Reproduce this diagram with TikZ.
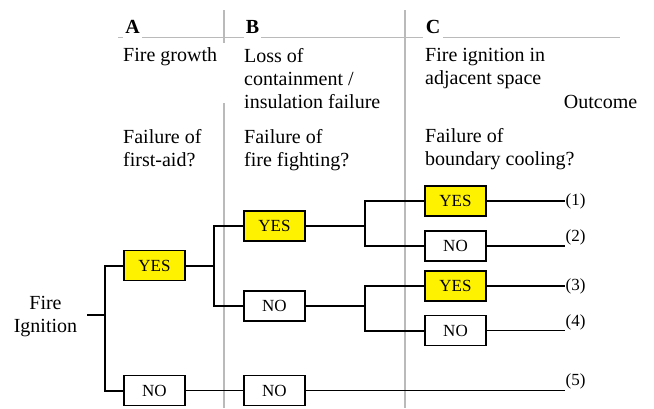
\documentclass[tikz,border=0pt]{standalone}
\usepackage{fontspec}
\setmainfont{Liberation Serif}
\begin{document}
\begin{tikzpicture}[x=1pt,y=-1pt,
  txt/.style={inner sep=0pt, align=left, font=\fontsize{20}{23}\selectfont},
  hdr/.style={fill=white, inner xsep=2.3pt, inner ysep=0pt, minimum height=26pt, font=\fontsize{20}{23}\selectfont\bfseries},
  grid/.style={draw=black!27, line width=1.5pt},
  box/.style={draw=black, line width=1.5pt, minimum width=61pt, minimum height=30pt, inner sep=0pt, font=\fontsize{17}{19}\selectfont},
  yesbox/.style={box, fill=yellow},
  nobox/.style={box, fill=white},
  br/.style={line width=2pt},
  thin/.style={line width=1.3pt},
  outlbl/.style={inner sep=0.5pt, anchor=west, font=\fontsize{17}{19}\selectfont}]
\useasboundingbox (0,0) rectangle (654,408);
% grid lines
\draw[grid] (118,37.7) -- (620,37.7);
\draw[grid] (224,10) -- (224,43);
\draw[grid] (224,103) -- (224,408);
\draw[grid] (405,10) -- (405,408);
% headers
\node[hdr] (hA) at (132.5,27) {A};
\node[hdr] (hB) at (252.5,27) {B};
\node[hdr] (hC) at (433,27) {C};
% column texts
\node[txt, anchor=north west] (tA1) at (123,47.8) {Fire growth};
\node[txt, anchor=north west] (tB1) at (244,47.8) {Loss of\\containment /\\insulation failure};
\node[txt, anchor=north west] (tC1) at (425,47.8) {Fire ignition in\\adjacent space};
\node[txt, anchor=base east] (tOut) at (637.5,108) {Outcome};
\node[txt, anchor=north west] (tA2) at (123,129.5) {Failure of\\first-aid?};
\node[txt, anchor=north west] (tB2) at (244,129.5) {Failure of\\fire fighting?};
\node[txt, anchor=north west] (tC2) at (425,128.5) {Failure of\\boundary cooling?};
% start
\node[txt, align=center, anchor=north] (fi) at (45.5,295.6) {Fire\\Ignition};
\coordinate (s0) at (87,315);
\coordinate (j0) at (105,315);
% boxes
\node[yesbox] (yA) at (154.5,265.5) {YES};
\node[nobox] (nA) at (154.5,390.5) {NO};
\node[yesbox] (yB) at (274.5,226) {YES};
\node[nobox] (nB) at (274.5,306) {NO};
\node[nobox] (nB2) at (274.5,390.5) {NO};
\node[yesbox] (yC1) at (455.5,201) {YES};
\node[nobox] (nC2) at (455.5,246) {NO};
\node[yesbox] (yC3) at (455.5,286) {YES};
\node[nobox] (nC4) at (455.5,330.5) {NO};
\coordinate (j1) at (214,265.5);
\coordinate (j2) at (365,226);
\coordinate (j3) at (365,306);
\coordinate (e1) at (565,201);
\coordinate (e2) at (565,246);
\coordinate (e3) at (565,286);
\coordinate (e4) at (565,330.5);
\coordinate (e5) at (565,390.5);
% branches
\draw[br] (s0) -- (j0);
\draw[br] (j0) |- (yA.west);
\draw[br] (j0) |- (nA.west);
\draw[br] (yA.east) -- (j1);
\draw[br] (j1) |- (yB.west);
\draw[br] (j1) |- (nB.west);
\draw[thin] (nA.east) -- (nB2.west);
\draw[br] (yB.east) -- (j2);
\draw[br] (j2) |- (yC1.west);
\draw[br] (j2) |- (nC2.west);
\draw[br] (nB.east) -- (j3);
\draw[br] (j3) |- (yC3.west);
\draw[br] (j3) |- (nC4.west);
\draw[br] (yC1.east) -- (e1);
\draw[thin] (nC2.east) -- (e2);
\draw[br] (yC3.east) -- (e3);
\draw[thin] (nC4.east) -- (e4);
\draw[thin] (nB2.east) -- (e5);
% outcomes
\node[outlbl] (o1) at (e1) {(1)};
\node[outlbl] (o2) at (565,237.3) {(2)};
\node[outlbl] (o3) at (e3) {(3)};
\node[outlbl] (o4) at (565,322.7) {(4)};
\node[outlbl] (o5) at (565,381.7) {(5)};
\end{tikzpicture}
\end{document}
